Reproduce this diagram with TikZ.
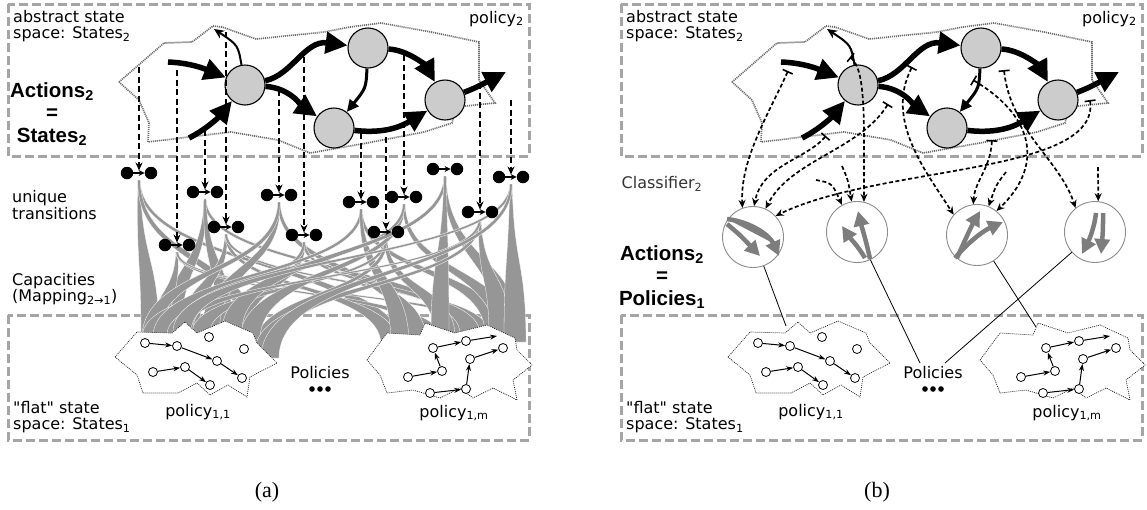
\documentclass[tikz,border=0pt]{standalone}
\usepackage{fontspec}
\setmainfont{DejaVu Sans}[Ligatures=TeXOff]
\newfontfamily\headfont{Liberation Sans}
\newfontfamily\capfont{Liberation Serif}
\usetikzlibrary{arrows.meta,calc}

\definecolor{boxgray}{RGB}{165,165,165}
\definecolor{bandgray}{RGB}{150,150,150}
\definecolor{linegray}{RGB}{110,110,110}
\definecolor{stategray}{RGB}{204,204,204}
\definecolor{arrowgray}{RGB}{125,125,125}

\tikzset{
  boxframe/.style={draw=boxgray, line width=3pt, dash pattern=on 9pt off 4pt},
  lbl/.style={font=\fontsize{16}{16.5}\selectfont, inner sep=0pt, align=left},
  bigtext/.style={font=\headfont\bfseries\fontsize{20.5}{22.5}\selectfont, inner sep=0pt, align=center},
  captxt/.style={font=\capfont\fontsize{22}{22}\selectfont, inner sep=0pt},
  region/.style={draw=linegray, line width=1.7pt, dash pattern=on 1.1pt off 0.9pt},
  bigstate/.style={circle, draw=black, line width=1.1pt, fill=stategray, minimum size=40pt, inner sep=0pt},
  bigarr/.style={line width=5.5pt, -{Triangle[length=22pt,width=21pt]}},
  midarr/.style={line width=3pt, -{Triangle[length=12pt,width=11pt]}},
  thinarr/.style={line width=2pt, -{Stealth[length=10pt,width=9pt]}},
  lowstar/.style={draw=black!85, line width=0.7pt, dash pattern=on 1pt off 1pt, fill=white},
  lowpt/.style={circle, draw=black, line width=0.8pt, fill=white, minimum size=9pt, inner sep=0pt},
  lowarr/.style={line width=1pt, -{Stealth[length=7pt,width=5pt]}},
  dumb/.style={circle, fill=black, minimum size=12.5pt, inner sep=0pt},
  dumbarr/.style={line width=1.6pt, -{Stealth[length=6pt,width=6pt]}},
  adash/.style={line width=1.7pt, dash pattern=on 6pt off 3.5pt, -{Stealth[length=8pt,width=7pt]}, shorten >=2.5pt},
  bdash/.style={line width=1.7pt, dash pattern=on 4pt off 2.5pt, {Bar[width=11pt,line width=1.6pt]}-{Stealth[length=8pt,width=7pt]}},
  bdashfree/.style={line width=1.7pt, dash pattern=on 4pt off 2.5pt, -{Stealth[length=8pt,width=7pt]}},
  bandfill/.style={fill=bandgray, draw=white, line width=0.3pt},
  clf/.style={circle, draw=black!45, line width=0.9pt, fill=white, minimum size=61pt, inner sep=0pt},
  garr/.style={draw=arrowgray, line width=4.5pt, -{Triangle[length=15pt,width=15pt]}, fill=arrowgray},
  plainline/.style={line width=0.8pt},
}

% dashed frames of the two levels
\newcommand\panelframes{%
  \draw[boxframe] (8,4) rectangle (529,156);
  \draw[boxframe] (8,315) rectangle (529,440);
}

% low level policies with their flat states
\newcommand\panelstars[1]{%
  \draw[lowstar] (115,357) -- (137,332) -- (172,333) -- (185,322) -- (197,333) -- (225,321) -- (253,333) -- (257,343) -- (277,363) -- (250,377) -- (247,397) -- (228,385) -- (210,395) -- (197,383) -- (178,393) -- (143,393) -- (137,375) -- cycle;
  \draw[lowstar] (367,360) -- (387,333) -- (420,335) -- (425,323) -- (455,333) -- (487,325) -- (515,338) -- (517,350) -- (532,365) -- (513,380) -- (517,400) -- (493,388) -- (473,398) -- (460,388) -- (440,398) -- (413,390) -- (387,393) -- (380,375) -- cycle;
  \foreach \nm/\x/\y in {p1/145/343, p2/177/346, p3/209/337, p4/244/349, p5/217/361, p6/242/378, p7/153/372, p8/185/367, p9/210/385,
      q1/433/348, q2/466/341, q3/503/348, q4/442/371, q5/470/359, q6/408/377, q7/430/393, q8/466/389}
    {\node[lowpt] (#1\nm) at (\x,\y) {};}
  \coordinate (#1qe) at (497,336);
  \foreach \u/\v in {p1/p2, p2/p5, p5/p6, p7/p8, p8/p9, q6/q4, q4/q1, q1/q2, q2/qe, q7/q8, q8/q5, q5/q3}
    {\draw[lowarr] (#1\u) -- (#1\v);}
  \node[lbl] (#1pa) at (198,412) {policy\textsubscript{1,1}};
  \node[lbl] (#1pm) at (454,413) {policy\textsubscript{1,m}};
  \node[lbl] (#1pols) at (320,373) {Policies};
  \fill (312,389) circle (2.8pt) (320,389) circle (2.8pt) (328,389) circle (2.8pt);
  \node[lbl, anchor=north west] (#1flat) at (13,401) {"flat" state\\space: States\textsubscript{1}};
}

% abstract level: states and transitions of policy 2
\newcommand\paneltop[1]{%
  \node[lbl, anchor=north west] (#1abs) at (13,10) {abstract state\\space: States\textsubscript{2}};
  \node[lbl, anchor=north east] (#1pol) at (524,11) {policy\textsubscript{2}};
  \draw[region] (119,82) -- (164,43) -- (192,42) -- (213,26) -- (222,27) -- (256,39) -- (324,32) -- (350,27) -- (381,23) -- (431,32) -- (479,42) -- (479,80) -- (495,103) -- (456,107) -- (452,123) -- (424,132) -- (367,143) -- (310,153) -- (278,140) -- (231,132) -- (189,137) -- (148,142) -- (149,123) -- (139,100) -- cycle;
  \node[bigstate] (#1c1) at (245,85) {};
  \node[bigstate] (#1c2) at (368,48) {};
  \node[bigstate] (#1c3) at (334,128) {};
  \node[bigstate] (#1c4) at (445,100) {};
  \draw[bigarr] (168,62) .. controls (195,63) and (212,72) .. (#1c1);
  \draw[bigarr] (189,138) .. controls (205,130) and (218,118) .. (#1c1);
  \draw[bigarr] (#1c1) .. controls (292,75) and (305,40) .. (#1c2);
  \draw[bigarr] (#1c1) .. controls (290,88) and (302,106) .. (#1c3);
  \draw[bigarr] (#1c2) .. controls (408,50) and (426,66) .. (#1c4);
  \draw[midarr] (#1c2) .. controls (366,88) .. (#1c3);
  \draw[bigarr] (#1c3) .. controls (385,134) and (402,126) .. (#1c4);
  \draw[bigarr] (#1c4) .. controls (475,88) .. (506,72);
  \draw[thinarr] (#1c1) .. controls (238,45) .. (214,29);
}

% tapered capacity band from a transition down to a policy
\newcommand\gband[4]{%
  \coordinate (gbe) at (#2,#3);
  \coordinate (gbu) at (#1 |- gbe);
  \coordinate (gbv) at (gbe |- #1);
  \fill[bandfill] ($(#1)+(-1.2,7)$) .. controls ($(#1)!0.55!(gbu)+(-3,0)$) and ($(gbe)!0.5!(gbv)+(-#4,0)$) .. ($(gbe)+(-#4,0)$)
     -- ($(gbe)+(#4,0)$) .. controls ($(gbe)!0.5!(gbv)+(#4,0)$) and ($(#1)!0.55!(gbu)+(3,0)$) .. ($(#1)+(1.2,7)$) -- cycle;}

\begin{document}
\begin{tikzpicture}[x=1pt,y=-1pt]
\useasboundingbox (0,0) rectangle (1147,509);

% ---------------- (a) mapping through unique transitions ----------------
\panelframes
\foreach \nm/\x/\y in {1/139/173, 2/205/192, 3/177/245, 4/226/227, 5/279/195, 6/304/235, 7/361/202, 8/386/232, 9/404/197, 10/445/169, 11/480/212, 12/511/177}
  {\coordinate (d\nm) at (\x,\y);}
\foreach \i/\ex/\ey/\w in {
   1/150/338/9, 1/395/350/9, 1/250/338/8,
   2/172/337/9, 2/460/336/10, 2/225/330/8,
   3/160/337/9, 3/430/335/9, 3/495/336/8,
   4/190/332/9, 4/390/345/9, 4/480/333/9,
   5/210/335/9, 5/416/340/10, 5/150/338/8,
   6/238/333/10, 6/470/334/10, 6/150/338/8,
   7/162/337/9, 7/495/334/10, 7/400/345/9,
   8/200/335/9, 8/445/337/10, 8/262/348/8,
   9/250/340/10, 9/505/338/10, 9/185/330/8,
   10/232/331/10, 10/510/340/11, 10/440/336/9,
   11/265/352/10, 11/500/336/11, 11/175/335/8,
   12/182/332/9, 12/515/342/11, 12/270/358/9}
  {\gband{d\i}{\ex}{\ey}{\w}}
\panelstars{a}
\paneltop{a}
\node[bigtext] (actA) at (52,114) {Actions\textsubscript{2}\\=\\States\textsubscript{2}};
\node[lbl, anchor=west] (uniq) at (12,205) {unique\\transitions};
\node[lbl, anchor=west] (capa) at (12,289) {Capacities\\(Mapping\textsubscript{2→1})};
\foreach \nm/\y/\t in {1/67/1, 2/70/3, 3/130/2, 4/32/4, 5/90/5, 6/57/6, 7/133/7, 8/137/8, 9/55/9, 10/83/11, 11/100/12}
  {\coordinate (s\nm) at (d\t |- 0,\y);
   \draw[adash] (s\nm) -- (d\t);}
\foreach \nm in {1,...,12}
  {\node[dumb] (d\nm l) at ($(d\nm)+(-12,0)$) {};
   \node[dumb] (d\nm r) at ($(d\nm)+(12,0)$) {};
   \draw[dumbarr] (d\nm l) -- (d\nm r);}
\node[captxt] (capA) at (267,492) {(a)};

% ---------------- (b) mapping through a classifier ----------------
\begin{scope}[xshift=613pt]
  \panelframes
\end{scope}
\node[clf] (k1) at (753,237) {};
\node[clf] (k2) at (857,232) {};
\node[clf] (k3) at (977,235) {};
\node[clf] (k4) at (1095,232) {};
\coordinate (bst1) at (786,326);
\coordinate (bst3) at (1036,327);
\coordinate (bpl) at (920,363);
\coordinate (bpr) at (945,363);
\draw[plainline] (k1) -- (bst1);
\draw[plainline] (k2) -- (bpl);
\draw[plainline] (k3) -- (bst3);
\draw[plainline] (k4) -- (bpr);
\begin{scope}[xshift=613pt]
  \panelstars{b}
  \paneltop{b}
\end{scope}
\node[lbl] (clfl) at (662,184) {\color{black!80}Classifier\textsubscript{2}};
\node[bigtext] (actB) at (662,277) {Actions\textsubscript{2}\\=\\Policies\textsubscript{1}};

% actions drawn inside each classifier
\draw[garr] (727,219) .. controls (752,222) and (770,236) .. (779,256);
\draw[garr] (727,224) .. controls (740,235) .. (760,256);
\draw[garr] (870,259) .. controls (866,240) and (862,228) .. (858,211);
\draw[garr] (865,258) .. controls (858,246) and (850,238) .. (842,226);
\draw[garr] (955,258) .. controls (970,240) and (985,230) .. (1003,222);
\draw[garr] (957,258) .. controls (965,240) and (972,225) .. (980,211);
\draw[garr] (1103,213) .. controls (1103,230) .. (1101,254);
\draw[garr] (1096,213) .. controls (1094,230) and (1088,242) .. (1082,254);

% transitions classified into actions
\coordinate (ta) at (788,71);
\coordinate (tb) at (826,136);
\coordinate (tc) at (888,104);
\coordinate (td) at (1090,100);
\coordinate (te) at (850,57);
\coordinate (tf) at (842,166);
\coordinate (tg) at (816,180);
\coordinate (th) at (912,67);
\coordinate (ti) at (992,140);
\coordinate (tj) at (1006,172);
\coordinate (tk) at (1004,70);
\coordinate (tl) at (973,80);
\coordinate (tm) at (1098,167);
\draw[bdash] (ta) .. controls (768,115) and (740,160) .. (k1.110);
\draw[bdash] (tb) .. controls (805,160) and (762,165) .. (k1.88);
\draw[bdash] (tc) .. controls (860,150) and (790,160) .. (k1.66);
\draw[bdash] (td) .. controls (1100,175) and (880,165) .. (k1.43);
\draw[bdash] (te) .. controls (866,70) and (864,120) .. (k2.77);
\draw[bdashfree] (tf) .. controls (848,180) .. (k2.100);
\draw[bdashfree] (tg) .. controls (832,183) .. (k2.119);
\draw[bdash] (th) .. controls (885,120) and (925,170) .. (k3.139);
\draw[bdash] (ti) .. controls (990,170) and (975,180) .. (k3.97);
\draw[bdashfree] (tj) .. controls (996,185) .. (k3.68);
\draw[bdash] (tl) .. controls (1040,120) and (1040,170) .. (k3.51);
\draw[bdash] (tk) .. controls (1010,130) and (1060,160) .. (k4.129);
\draw[bdashfree] (tm) -- (k4.84);
\node[captxt] (capB) at (877,492) {(b)};
\end{tikzpicture}
\end{document}
